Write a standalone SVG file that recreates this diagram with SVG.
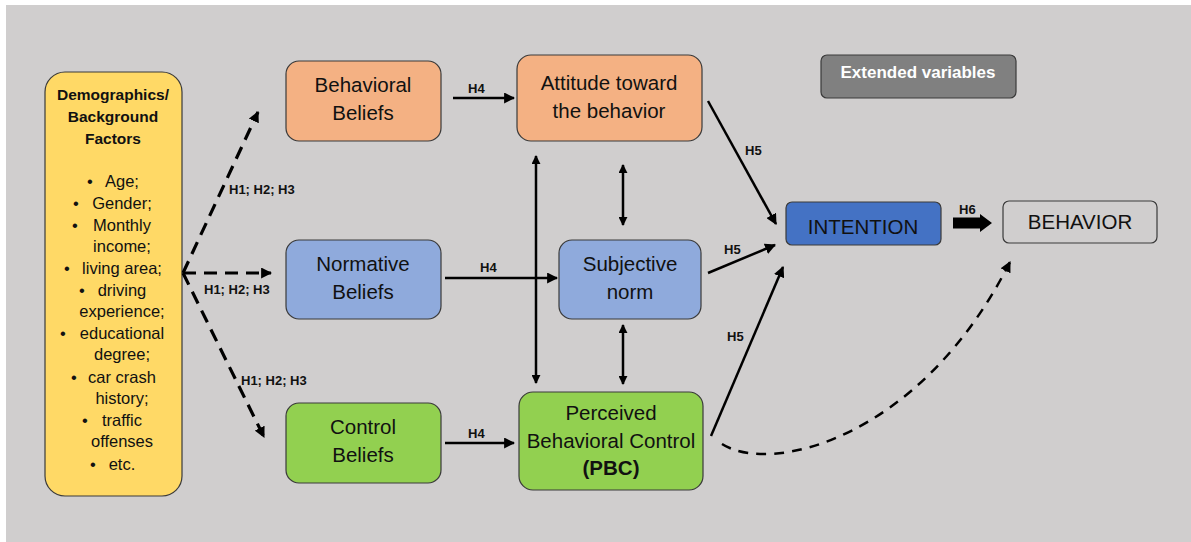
<svg xmlns="http://www.w3.org/2000/svg" width="1191" height="542" viewBox="0 0 1191 542">
<style>
.node{stroke:#3a3a3a;stroke-width:1.2}
.lbl{font-family:"Liberation Sans",Arial,sans-serif;font-size:20.5px;fill:#111;text-anchor:middle}
.h{font-family:"Liberation Sans",Arial,sans-serif;font-size:13px;font-weight:bold;fill:#111}
.dem{font-family:"Liberation Sans",Arial,sans-serif;font-size:16.5px;fill:#111;text-anchor:middle}
.demb{font-family:"Liberation Sans",Arial,sans-serif;font-size:15.5px;font-weight:bold;fill:#111;text-anchor:middle}
.sol{fill:none;stroke:#000;stroke-width:2.5}
.dash{fill:none;stroke:#000;stroke-width:3.2;stroke-dasharray:13 8}
</style>
<defs>
<marker id="ah" viewBox="0 0 10 10" refX="9" refY="5" markerWidth="11" markerHeight="11" markerUnits="userSpaceOnUse" orient="auto-start-reverse">
<path d="M0,0 L10,5 L0,10 z" fill="#000"/>
</marker>
<marker id="ahs" viewBox="0 0 10 10" refX="9" refY="5" markerWidth="9" markerHeight="9" markerUnits="userSpaceOnUse" orient="auto-start-reverse">
<path d="M0,0 L10,5 L0,10 z" fill="#000"/>
</marker>
</defs>
<rect x="6" y="5" width="1185" height="537" fill="#D0CECE"/>

<g id="demographics">
<rect class="node" x="45" y="72" width="137" height="424" rx="20" fill="#FFD966"/>
<text class="demb" x="113" y="100">Demographics/</text>
<text class="demb" x="113" y="122">Background</text>
<text class="demb" x="113" y="144">Factors</text>
<g class="dem">
<text x="90" y="187">•</text><text x="122" y="187">Age;</text>
<text x="76" y="209">•</text><text x="122" y="209">Gender;</text>
<text x="75" y="231">•</text><text x="122" y="231">Monthly</text>
<text x="122" y="252">income;</text>
<text x="67" y="274">•</text><text x="122" y="274">living area;</text>
<text x="82" y="296">•</text><text x="122" y="296">driving</text>
<text x="122" y="317">experience;</text>
<text x="63" y="339">•</text><text x="122" y="339">educational</text>
<text x="122" y="360">degree;</text>
<text x="74" y="383">•</text><text x="122" y="383">car crash</text>
<text x="122" y="404">history;</text>
<text x="85" y="426">•</text><text x="122" y="426">traffic</text>
<text x="122" y="447">offenses</text>
<text x="93" y="470">•</text><text x="122" y="470">etc.</text>
</g>
</g>

<g id="behavioral-beliefs">
<rect class="node" x="286" y="61" width="155" height="80" rx="13" fill="#F4B183"/>
<text class="lbl" x="363" y="92">Behavioral</text>
<text class="lbl" x="363" y="120">Beliefs</text>
</g>
<g id="attitude">
<rect class="node" x="517" y="55" width="185" height="86" rx="14" fill="#F4B183"/>
<text class="lbl" x="609" y="90">Attitude toward</text>
<text class="lbl" x="609" y="118">the behavior</text>
</g>
<g id="normative-beliefs">
<rect class="node" x="286" y="240" width="155" height="79" rx="13" fill="#8FAADC"/>
<text class="lbl" x="363" y="271">Normative</text>
<text class="lbl" x="363" y="299">Beliefs</text>
</g>
<g id="subjective-norm">
<rect class="node" x="559" y="240" width="142" height="79" rx="13" fill="#8FAADC"/>
<text class="lbl" x="630" y="271">Subjective</text>
<text class="lbl" x="630" y="299">norm</text>
</g>
<g id="control-beliefs">
<rect class="node" x="286" y="403" width="155" height="80" rx="13" fill="#92D050"/>
<text class="lbl" x="363" y="434">Control</text>
<text class="lbl" x="363" y="462">Beliefs</text>
</g>
<g id="pbc">
<rect class="node" x="519" y="392" width="184" height="98" rx="14" fill="#92D050"/>
<text class="lbl" x="611" y="420">Perceived</text>
<text class="lbl" x="611" y="448">Behavioral Control</text>
<text class="lbl" x="611" y="475" font-weight="bold">(PBC)</text>
</g>
<g id="extended-variables">
<rect class="node" x="821" y="55" width="195" height="43" rx="6" fill="#808080"/>
<text x="918" y="78" text-anchor="middle" font-family="'Liberation Sans',Arial,sans-serif" font-size="17px" font-weight="bold" fill="#fff">Extended variables</text>
</g>
<g id="intention">
<rect class="node" x="786" y="202" width="155" height="43" rx="6" fill="#4472C4"/>
<text class="lbl" x="863" y="234" font-size="19.5px">INTENTION</text>
</g>
<g id="behavior">
<rect class="node" x="1003" y="201" width="154" height="42" rx="6" fill="#D0CECE"/>
<text class="lbl" x="1080" y="229" font-size="19.5px">BEHAVIOR</text>
</g>

<g id="connectors">
<path class="dash" d="M183,273 L258,112" marker-end="url(#ah)"/>
<path class="dash" d="M183,273 L271,273" marker-end="url(#ah)"/>
<path class="dash" d="M183,273 L264,437" marker-end="url(#ah)"/>
<text class="h" x="229" y="194">H1; H2; H3</text>
<text class="h" x="204" y="294">H1; H2; H3</text>
<text class="h" x="241" y="385">H1; H2; H3</text>

<path class="sol" d="M453,98 L514,98" stroke-width="3" marker-end="url(#ah)"/>
<text class="h" x="468" y="93">H4</text>
<path class="sol" d="M445,278 L557,278" stroke-width="3" marker-end="url(#ah)"/>
<text class="h" x="480" y="272">H4</text>
<path class="sol" d="M445,443 L514,443" stroke-width="3" marker-end="url(#ah)"/>
<text class="h" x="468" y="438">H4</text>

<path class="sol" d="M536,156 L536,383" stroke-width="2" marker-start="url(#ahs)" marker-end="url(#ahs)"/>
<path class="sol" d="M623,165 L623,225" stroke-width="2" marker-start="url(#ahs)" marker-end="url(#ahs)"/>
<path class="sol" d="M623,325 L623,384" stroke-width="2" marker-start="url(#ahs)" marker-end="url(#ahs)"/>

<path class="sol" d="M708,101 L776,224" marker-end="url(#ah)"/>
<text class="h" x="745" y="155">H5</text>
<path class="sol" d="M708,273 L775,245" marker-end="url(#ah)"/>
<text class="h" x="724" y="254">H5</text>
<path class="sol" d="M711,436 L783,267" marker-end="url(#ah)"/>
<text class="h" x="727" y="341">H5</text>

<path d="M953,217.5 L980,217.5 L980,214 L992,223 L980,232 L980,228.5 L953,228.5 z" fill="#000"/>
<text class="h" x="959" y="214">H6</text>

<path class="sol" d="M722,444 C770,475 920,440 1010,262" stroke-width="2.6" stroke-dasharray="10 8" marker-end="url(#ah)"/>
</g>
</svg>
